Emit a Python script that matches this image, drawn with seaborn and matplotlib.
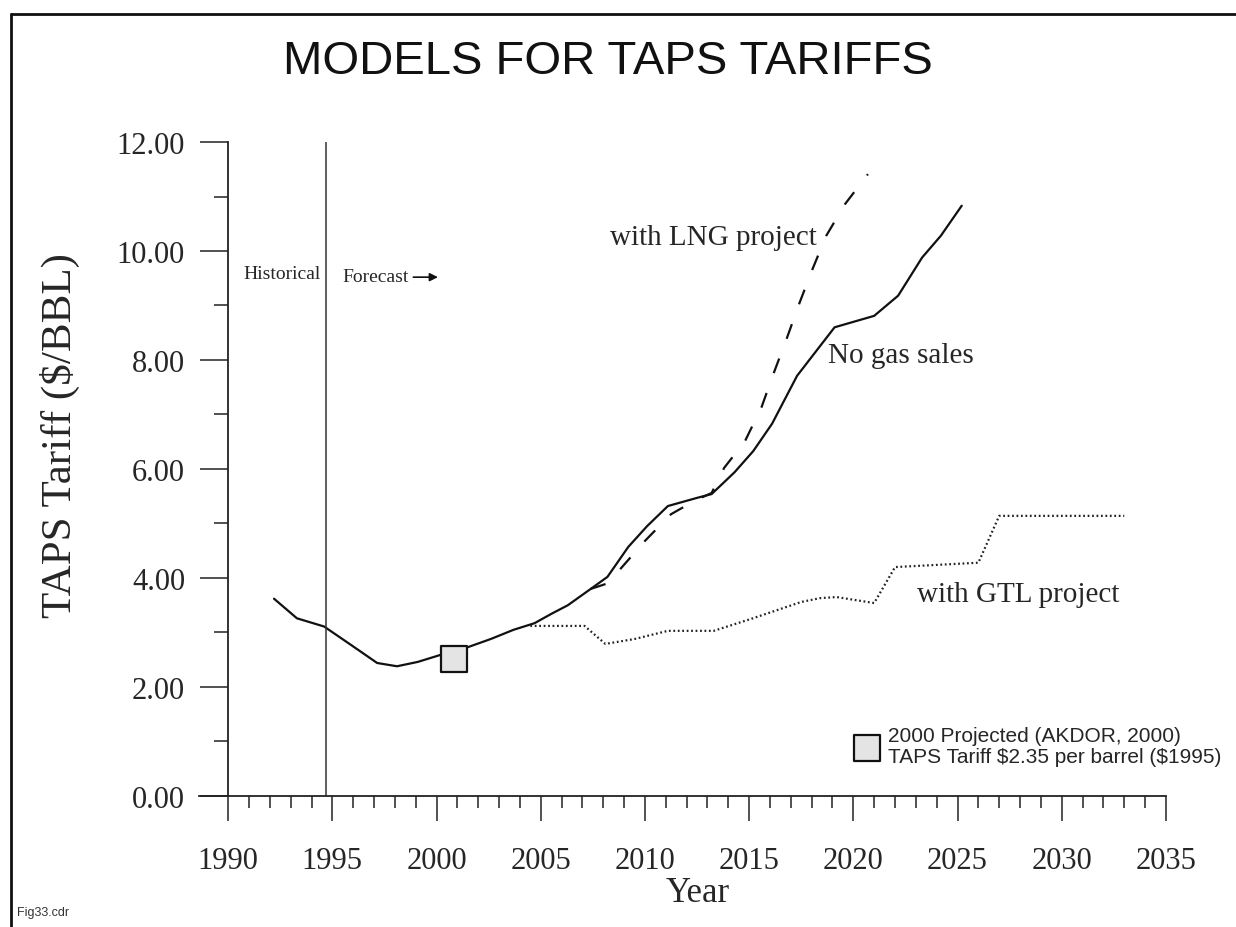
import matplotlib
matplotlib.use("Agg")
import matplotlib.pyplot as plt
import seaborn as sns
from matplotlib import font_manager
from matplotlib.lines import Line2D
from matplotlib.ticker import FixedLocator, FormatStrFormatter

# --- data ---
years_none = [1992.2, 1993.3, 1994.6, 1995.9, 1997.15, 1998.1, 1999.1, 2000.2, 2001.5,
              2002.6, 2003.7, 2004.7, 2005.5, 2006.3, 2007.4, 2008.2, 2009.2, 2010.1,
              2011.1, 2012.5, 2013.2, 2014.3, 2015.2, 2016.1, 2017.3, 2019.1, 2021.0,
              2022.15, 2023.3, 2024.2, 2025.2]
vals_none = [3.62, 3.26, 3.11, 2.77, 2.44, 2.38, 2.46, 2.59, 2.73,
             2.88, 3.05, 3.17, 3.34, 3.50, 3.80, 4.02, 4.57, 4.95,
             5.32, 5.47, 5.54, 5.94, 6.33, 6.83, 7.71, 8.60, 8.81,
             9.18, 9.88, 10.28, 10.83]

years_lng = [2007.4, 2008.2, 2008.9, 2010.0, 2011.25, 2012.4, 2013.2, 2013.8, 2014.8,
             2015.6, 2016.2, 2016.8, 2017.4, 2018.0, 2018.7, 2019.6, 2020.7]
vals_lng = [3.80, 3.90, 4.20, 4.68, 5.17, 5.42, 5.56, 6.02, 6.51,
            7.14, 7.78, 8.39, 9.03, 9.63, 10.28, 10.86, 11.41]

years_gtl = [2004.5, 2007.1, 2008.1, 2009.5, 2011.1, 2013.3, 2015.1, 2017.5, 2018.4,
             2019.2, 2021.0, 2022.0, 2026.0, 2027.0, 2033.0]
vals_gtl = [3.12, 3.12, 2.79, 2.88, 3.03, 3.03, 3.25, 3.56, 3.63,
            3.65, 3.54, 4.20, 4.28, 5.14, 5.14]

projected_year = [2000.83]
projected_val = [2.51]

forecast_split = 1994.7
x_major = [1990, 1995, 2000, 2005, 2010, 2015, 2020, 2025, 2030, 2035]
x_minor = [y for y in range(1990, 2036) if y not in x_major]
y_major = [0, 2, 4, 6, 8, 10, 12]
y_minor = [1, 3, 5, 7, 9, 11]

sns.set_style("white")
plt.rcParams['font.family'] = ['Liberation Serif', 'DejaVu Serif']

names = {f.name for f in font_manager.fontManager.ttflist}
if 'Liberation Sans Narrow' in names:
    title_font, title_size = 'Liberation Sans Narrow', 40
else:
    title_font, title_size = 'Liberation Sans', 34

fig = plt.figure(figsize=(12.36, 9.28), dpi=100)
ax = fig.add_axes([0.161, 0.1412, 0.7823, 0.7047])

sns.lineplot(x=years_none, y=vals_none, ax=ax, color='#111111', linewidth=1.6)
sns.lineplot(x=years_lng, y=vals_lng, ax=ax, color='#111111', linewidth=1.6,
             linestyle=(0, (7, 9.5)))
sns.lineplot(x=years_gtl, y=vals_gtl, ax=ax, color='#222222', linewidth=1.6,
             linestyle=(0, (0.8, 1.2)))
sns.scatterplot(x=projected_year, y=projected_val, ax=ax, marker='s', s=330,
                facecolor='#e4e4e4', edgecolor='#111111', linewidth=1.6, zorder=5,
                label='2000 Projected (AKDOR, 2000)\nTAPS Tariff \\$2.35 per barrel (\\$1995)')

ax.axvline(forecast_split, color='#333333', linewidth=1.1)

ax.set_xlim(1988.6, 2035)
ax.set_ylim(0, 12)
ax.spines['left'].set_position(('data', 1990))
for s in ['top', 'right']:
    ax.spines[s].set_visible(False)
for s in ['left', 'bottom']:
    ax.spines[s].set_linewidth(1.3)
    ax.spines[s].set_color('#222222')

ax.xaxis.set_major_locator(FixedLocator(x_major))
ax.xaxis.set_minor_locator(FixedLocator(x_minor))
ax.yaxis.set_major_locator(FixedLocator(y_major))
ax.yaxis.set_minor_locator(FixedLocator(y_minor))
ax.yaxis.set_major_formatter(FormatStrFormatter('%.2f'))
ax.tick_params(which='both', bottom=True, left=True)
ax.tick_params(axis='x', which='major', direction='out', length=18, width=1.1,
               pad=18, labelsize=22, color='#222222')
ax.tick_params(axis='x', which='minor', direction='out', length=8.5, width=1.1,
               color='#222222')
ax.tick_params(axis='y', which='major', direction='out', length=20, width=1.1,
               pad=11, labelsize=22, color='#222222')
ax.tick_params(axis='y', which='minor', direction='out', length=10, width=1.1,
               color='#222222')

ax.set_xlabel('Year', fontsize=25)
ax.xaxis.set_label_coords(0.516, -0.122)
ax.set_ylabel('TAPS Tariff ($/BBL)', fontsize=31)
ax.yaxis.set_label_coords(-0.123, 0.553)

# annotations
ax.text(2008.3, 10.26, 'with LNG project', fontsize=21, va='center', ha='left')
ax.text(2018.8, 8.1, 'No gas sales', fontsize=21, va='center', ha='left')
ax.text(2023.07, 3.70, 'with GTL project', fontsize=21, va='center', ha='left')
ax.text(1990.72, 9.58, 'Historical', fontsize=14, va='center', ha='left')
ax.text(1995.46, 9.54, 'Forecast', fontsize=14, va='center', ha='left')
ax.annotate('', xy=(2000.2, 9.52), xytext=(1998.75, 9.52),
            arrowprops=dict(arrowstyle='-|>', color='#111111', lw=1.2, mutation_scale=12))

leg = ax.legend(loc='upper left', bbox_to_anchor=(0.6837, 0.2275),
                bbox_transform=fig.transFigure, frameon=False, borderpad=0,
                handlelength=1.1, handletextpad=0.45, labelspacing=0,
                prop={'family': 'Liberation Sans', 'size': 15})
for t in leg.get_texts():
    t.set_linespacing(1.1)

fig.text(0.492, 0.933, 'MODELS FOR TAPS TARIFFS', ha='center', va='center',
         fontsize=title_size, family=title_font, color='#111111')
fig.text(0.014, 0.016, 'Fig33.cdr', ha='left', va='center', fontsize=9,
         family='Liberation Sans', color='#333333')

# scanned page frame
fig.add_artist(Line2D([0.009, 0.009], [0.0, 0.984], transform=fig.transFigure,
                      color='#111111', linewidth=2))
fig.add_artist(Line2D([0.009, 1.0], [0.984, 0.984], transform=fig.transFigure,
                      color='#111111', linewidth=2))

fig.savefig('out.png', dpi=100)
